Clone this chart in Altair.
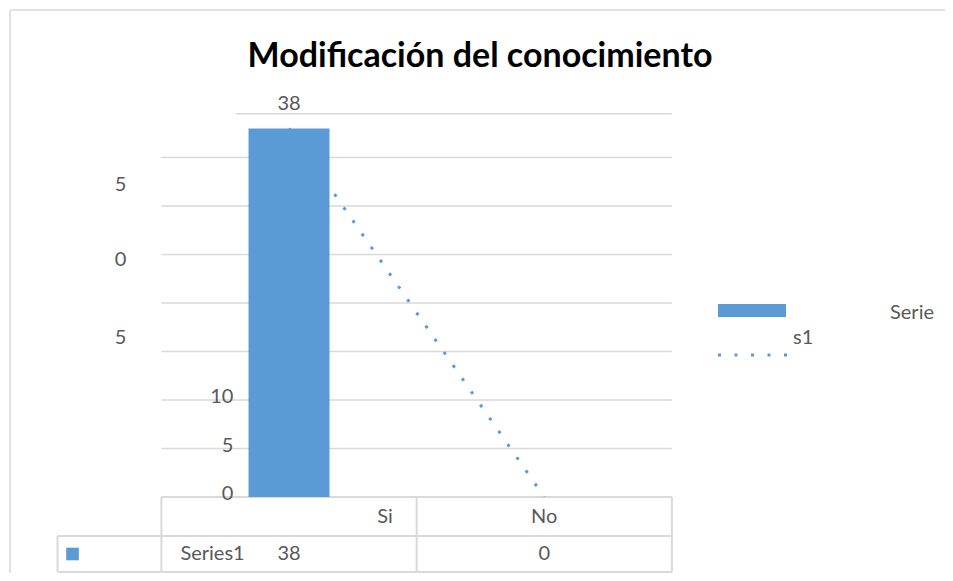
import altair as alt
import pandas as pd

# ---------------- data ----------------
categories = ["Si", "No"]
values = [38, 0]
series_name = "Series1"
title_text = "Modificación del conocimiento"
grid_values = [5, 10, 15, 20, 25, 30, 35]
top_line_value = 39.5
# tick labels as they appear (garbled) and the value height they sit at
tick_texts_left = ["5", "0", "5"]
tick_values_left = [32.2, 24.4, 16.4]
tick_texts_right = ["10", "5", "0"]
tick_values_right = [10, 5, 0]
legend_words = ["Serie", "s1"]

# ---------------- layout (page pixels) ----------------
W, H = 937, 565          # view size (page minus 8px margin)
OX, OY = 8, 8
cat0_px = 287            # page x of first category
cat_step = 258           # px between categories
zero_px = 497            # page y of value 0
unit_px = 9.7            # px per value unit

def vx(px):  # page x -> view x
    return px - OX

def vy(py):
    return py - OY

x_dom = [1 - (cat0_px - OX) / cat_step, 1 + (W + OX - cat0_px) / cat_step]
y_dom = [-(OY + H - zero_px) / unit_px, (zero_px - OY) / unit_px]
X = alt.Scale(domain=x_dom, nice=False, zero=False)
Y = alt.Scale(domain=y_dom, nice=False, zero=False)

pos = {c: i + 1 for i, c in enumerate(categories)}
df = pd.DataFrame({"cat": categories, "x": [pos[c] for c in categories], "v": values})

BLUE = "#5b9bd5"
GRID = "#d9d9d9"
TXT = "#595959"
FONT = "Lato"
FS = 20

xe = lambda f="x": alt.X(f, type="quantitative", scale=X, axis=None)
ye = lambda f="v": alt.Y(f, type="quantitative", scale=Y, axis=None)

# gridlines
gdf = pd.DataFrame({"v": grid_values, "x": 0.5, "x2": 2.5})
grid = alt.Chart(gdf).mark_rule(color=GRID, strokeWidth=1.5).encode(
    x=xe(), x2="x2", y=ye())
tdf = pd.DataFrame({"v": [top_line_value], "x": [1 - (cat0_px - 233) / cat_step], "x2": [2.5]})
top_line = alt.Chart(tdf).mark_rule(color=GRID, strokeWidth=1.5).encode(
    x=xe(), x2="x2", y=ye())

# dotted series line (drawn behind bar)
line = alt.Chart(df).mark_line(color=BLUE, strokeWidth=3, strokeDash=[3, 13],
                               strokeCap="butt").encode(x=xe(), y=ye())
bar = alt.Chart(df).mark_bar(color=BLUE, size=81).encode(
    x=xe(), y=ye(), y2=alt.datum(0))
bar_label = alt.Chart(df[df.v > 0]).mark_text(
    font=FONT, fontSize=FS, color=TXT, dy=-24).encode(
    x=xe(), y=ye(), text=alt.Text("v:Q"))

# table (data table under the axis)
row1 = -(536 - zero_px) / unit_px
row2 = -(572 - zero_px) / unit_px
left_edge = 1 - (cat0_px - 53) / cat_step
hlines = pd.DataFrame({"v": [0, row1, row2], "x": [0.5, left_edge, left_edge], "x2": [2.5, 2.5, 2.5]})
vlines = pd.DataFrame({"x": [0.5, 1.5, 2.5, left_edge], "v": [0, 0, 0, row1], "v2": [row2] * 4})
th = alt.Chart(hlines).mark_rule(color=GRID, strokeWidth=2).encode(x=xe(), x2="x2", y=ye())
tv = alt.Chart(vlines).mark_rule(color=GRID, strokeWidth=2).encode(x=xe(), y=ye(), y2="v2")

cat_text = alt.Chart(pd.DataFrame({"x": [pos["Si"]], "t": ["Si"], "v": [(row1) / 2]})).mark_text(
    font=FONT, fontSize=FS, color=TXT, dx=96).encode(x=xe(), y=ye(), text="t:N")
cat_text2 = alt.Chart(pd.DataFrame({"x": [pos["No"]], "t": ["No"], "v": [(row1) / 2]})).mark_text(
    font=FONT, fontSize=FS, color=TXT).encode(x=xe(), y=ye(), text="t:N")
val_text = alt.Chart(df.assign(vr=(row1 + row2) / 2)).mark_text(
    font=FONT, fontSize=FS, color=TXT).encode(x=xe(), y=ye("vr"), text="v:Q")
series_text = alt.Chart(pd.DataFrame({"x": [0.5], "v": [(row1 + row2) / 2], "t": [series_name]})).mark_text(
    font=FONT, fontSize=FS, color=TXT, align="left", dx=19).encode(x=xe(), y=ye(), text="t:N")
key_sq = alt.Chart(pd.DataFrame({"x": [left_edge], "v": [(row1 + row2) / 2]})).mark_square(
    color=BLUE, opacity=1, size=160, xOffset=15).encode(x=xe(), y=ye())

# garbled tick labels
tl = alt.Chart(pd.DataFrame({"t": tick_texts_left, "v": tick_values_left, "x": 0.5})).mark_text(
    font=FONT, fontSize=FS, color=TXT, align="right", dx=-35, baseline="middle").encode(
    x=xe(), y=ye(), text="t:N")
tr = alt.Chart(pd.DataFrame({"t": tick_texts_right, "v": tick_values_right, "x": 0.5})).mark_text(
    font=FONT, fontSize=FS, color=TXT, align="right", dx=72, dy=-3, baseline="middle").encode(
    x=xe(), y=ye(), text="t:N")

# title
title = alt.Chart(pd.DataFrame({"t": [title_text]})).mark_text(
    font=FONT, fontSize=34, fontWeight="bold", color="#000000", baseline="alphabetic").encode(
    x=alt.value(vx(480)), y=alt.value(vy(67)), text="t:N")

# legend
leg_bar = alt.Chart(pd.DataFrame({"a": [0]})).mark_rect(color=BLUE).encode(
    x=alt.value(vx(718)), x2=alt.value(vx(786)), y=alt.value(vy(304)), y2=alt.value(vy(317)))
leg_line = alt.Chart(pd.DataFrame({"a": [0]})).mark_rule(
    color=BLUE, strokeWidth=3, strokeDash=[3, 13.5]).encode(
    x=alt.value(vx(718)), x2=alt.value(vx(790)), y=alt.value(vy(355)))
leg_t1 = alt.Chart(pd.DataFrame({"t": [legend_words[0]]})).mark_text(
    font=FONT, fontSize=FS, color=TXT, align="left").encode(
    x=alt.value(vx(890)), y=alt.value(vy(313)), text="t:N")
leg_t2 = alt.Chart(pd.DataFrame({"t": [legend_words[1]]})).mark_text(
    font=FONT, fontSize=FS, color=TXT, align="left").encode(
    x=alt.value(vx(793)), y=alt.value(vy(338)), text="t:N")

# chart area border (top and left)
border_top = alt.Chart(pd.DataFrame({"a": [0]})).mark_rule(color=GRID, strokeWidth=1.5).encode(
    x=alt.value(vx(10)), x2=alt.value(W), y=alt.value(vy(10)))
border_left = alt.Chart(pd.DataFrame({"a": [0]})).mark_rule(color=GRID, strokeWidth=1.5).encode(
    x=alt.value(vx(10)), y=alt.value(vy(10)), y2=alt.value(H))

chart = alt.layer(
    border_top, border_left, grid, top_line, th, tv, line, bar, bar_label,
    cat_text, cat_text2, val_text, series_text, key_sq, tl, tr, title,
    leg_bar, leg_line, leg_t1, leg_t2,
).properties(
    width=W, height=H, padding=0, autosize=alt.AutoSizeParams(type="none"),
    background="white",
).configure_view(stroke=None)

chart.save("out.html", embed_options={"renderer": "svg", "actions": False})
